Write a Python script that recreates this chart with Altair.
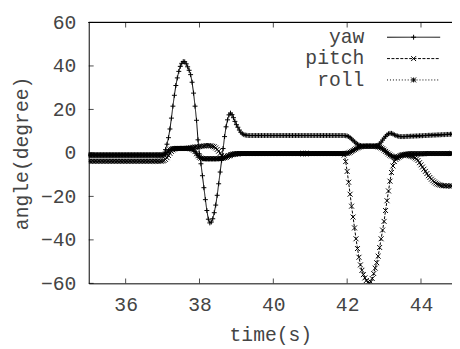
import altair as alt
import pandas as pd

series_names = ["yaw", "pitch", "roll"]
t_start = 35.0
t_step = 0.04

yaw = [
    -1.0, -1.0, -1.0, -1.0, -1.0, -1.0, -1.0, -1.0, -1.0, -1.0, -1.0, -1.0, -1.0, -1.0, -1.0, -1.0, -1.0, -1.0, -1.0, -1.0, -1.0, -1.0, -1.0, -1.0, -1.0,
    -1.0, -1.0, -1.0, -1.0, -1.0, -1.0, -1.0, -1.0, -1.0, -1.0, -1.0, -1.0, -1.0, -1.0, -1.0, -1.0, -1.0, -1.0, -1.0, -1.0, -1.0, -1.0, -1.0, -1.0, -1.0,
    -1.0, -0.5, 1.5, 4.0, 7.0, 11.0, 16.0, 21.5, 26.5, 31.0, 34.5, 37.5, 39.8, 41.2, 42.0, 41.9, 41.0, 39.6, 38.0, 36.0, 32.5, 27.5, 21.5, 15.0, 6.0,
    -0.5, -5.0, -10.5, -16.0, -21.5, -26.5, -30.5, -32.2, -31.8, -30.3, -27.5, -24.0, -19.5, -14.2, -8.8, -3.4, 2.0, 7.5, 12.0, 15.2, 17.5, 18.3, 17.6, 16.2, 14.5,
    13.0, 11.8, 10.5, 9.5, 8.8, 8.4, 8.2, 8.1, 8.0, 8.0, 8.0, 8.0, 8.0, 8.0, 8.0, 8.0, 8.0, 8.0, 8.0, 8.0, 8.0, 8.0, 8.0, 8.0, 8.0,
    8.0, 8.0, 8.0, 8.0, 8.0, 8.0, 8.0, 8.0, 8.0, 8.0, 8.0, 8.0, 8.0, 8.0, 8.0, 8.0, 8.0, 8.0, 8.0, 8.0, 8.0, 8.0, 8.0, 8.0, 8.0,
    8.0, 8.0, 8.0, 8.0, 8.0, 8.0, 8.0, 8.0, 8.0, 8.0, 8.0, 8.0, 8.0, 8.0, 8.0, 8.0, 8.0, 8.0, 8.0, 8.0, 8.0, 8.0, 8.0, 8.0, 7.9,
    7.8, 7.5, 7.0, 6.4, 5.8, 5.1, 4.5, 4.0, 3.6, 3.4, 3.2, 3.1, 3.1, 3.1, 3.1, 3.1, 3.1, 3.1, 3.2, 3.3, 3.4, 3.6, 4.2, 5.0, 5.9,
    6.8, 7.6, 8.3, 8.8, 9.0, 9.0, 8.7, 8.3, 8.0, 7.8, 7.6, 7.5, 7.5, 7.5, 7.5, 7.6, 7.6, 7.6, 7.7, 7.7, 7.7, 7.8, 7.8, 7.8, 7.9,
    7.9, 7.9, 8.0, 8.0, 8.0, 8.1, 8.1, 8.1, 8.2, 8.2, 8.2, 8.3, 8.3, 8.3, 8.4, 8.4, 8.4, 8.5, 8.5, 8.5, 8.6, 8.6,
]

pitch = [
    -3.8, -3.8, -3.8, -3.8, -3.8, -3.8, -3.8, -3.8, -3.8, -3.8, -3.8, -3.8, -3.8, -3.8, -3.8, -3.8, -3.8, -3.8, -3.8, -3.8, -3.8, -3.8, -3.8, -3.8, -3.8,
    -3.8, -3.8, -3.8, -3.8, -3.8, -3.8, -3.8, -3.8, -3.8, -3.8, -3.8, -3.8, -3.8, -3.8, -3.8, -3.8, -3.8, -3.8, -3.8, -3.8, -3.8, -3.8, -3.8, -3.8, -3.8,
    -3.7, -3.5, -3.0, -2.2, -1.2, -0.2, 0.7, 1.4, 1.8, 2.0, 2.1, 2.1, 2.1, 2.1, 2.1, 2.1, 2.1, 2.2, 2.3, 2.4, 2.5, 2.6, 2.7, 2.8, 2.8,
    2.9, 3.0, 3.1, 3.2, 3.3, 3.4, 3.4, 3.3, 3.2, 3.0, 2.8, 2.3, 1.6, 0.8, -0.2, -1.2, -1.9, -2.0, -1.9, -1.6, -1.3, -1.0, -0.8, -0.6, -0.5,
    -0.4, -0.4, -0.3, -0.3, -0.3, -0.3, -0.3, -0.3, -0.3, -0.3, -0.3, -0.3, -0.3, -0.3, -0.3, -0.3, -0.3, -0.3, -0.3, -0.3, -0.3, -0.3, -0.3, -0.3, -0.3,
    -0.3, -0.3, -0.3, -0.3, -0.3, -0.3, -0.3, -0.3, -0.3, -0.3, -0.3, -0.3, -0.3, -0.3, -0.3, -0.3, -0.3, -0.3, -0.3, -0.3, -0.3, -0.3, -0.3, -0.3, -0.3,
    -0.3, -0.3, -0.3, -0.3, -0.3, -0.3, -0.3, -0.3, -0.3, -0.3, -0.3, -0.3, -0.3, -0.3, -0.3, -0.3, -0.3, -0.3, -0.3, -0.3, -0.3, -0.3, -0.3, -1.0, -4.0,
    -8.5, -13.5, -19.0, -24.5, -29.5, -34.5, -39.5, -44.0, -48.0, -51.5, -54.0, -56.0, -57.5, -58.7, -59.5, -59.8, -59.3, -57.8, -55.5, -53.0, -50.5, -47.5, -43.5, -39.5, -35.5,
    -31.5, -26.5, -22.0, -17.5, -13.0, -9.0, -6.0, -4.0, -3.0, -2.4, -1.8, -1.3, -1.0, -0.9, -0.9, -1.0, -1.1, -1.3, -1.5, -1.7, -1.9, -2.3, -2.8, -3.5, -4.5,
    -5.5, -6.5, -7.5, -8.5, -9.5, -10.5, -11.3, -12.1, -12.8, -13.4, -13.9, -14.3, -14.6, -14.8, -15.0, -15.1, -15.1, -15.2, -15.2, -15.2, -15.2, -15.2,
]

roll = [
    -1.0, -1.0, -1.0, -1.0, -1.0, -1.0, -1.0, -1.0, -1.0, -1.0, -1.0, -1.0, -1.0, -1.0, -1.0, -1.0, -1.0, -1.0, -1.0, -1.0, -1.0, -1.0, -1.0, -1.0, -1.0,
    -1.0, -1.0, -1.0, -1.0, -1.0, -1.0, -1.0, -1.0, -1.0, -1.0, -1.0, -1.0, -1.0, -1.0, -1.0, -1.0, -1.0, -1.0, -1.0, -1.0, -1.0, -1.0, -1.0, -1.0, -1.0,
    -1.0, -0.9, -0.5, 0.2, 0.9, 1.4, 1.7, 1.9, 2.0, 2.0, 2.0, 2.0, 2.0, 2.0, 2.0, 2.0, 2.0, 2.0, 2.0, 1.9, 1.7, 1.3, 0.6, -0.4, -1.3,
    -2.0, -2.4, -2.6, -2.7, -2.7, -2.7, -2.7, -2.7, -2.7, -2.7, -2.7, -2.7, -2.7, -2.7, -2.6, -2.5, -2.4, -2.2, -1.9, -1.6, -1.3, -1.0, -0.8, -0.6, -0.5,
    -0.4, -0.4, -0.3, -0.3, -0.3, -0.3, -0.3, -0.3, -0.3, -0.3, -0.3, -0.3, -0.3, -0.3, -0.3, -0.3, -0.3, -0.3, -0.3, -0.3, -0.3, -0.3, -0.3, -0.3, -0.3,
    -0.3, -0.3, -0.3, -0.3, -0.3, -0.3, -0.3, -0.3, -0.3, -0.3, -0.3, -0.3, -0.3, -0.3, -0.3, -0.3, -0.3, -0.3, -0.3, -0.3, -0.3, -0.3, -0.3, -0.3, -0.3,
    -0.3, -0.3, -0.3, -0.3, -0.3, -0.3, -0.3, -0.3, -0.3, -0.3, -0.3, -0.3, -0.3, -0.3, -0.3, -0.3, -0.3, -0.3, -0.3, -0.3, -0.3, -0.3, -0.3, -0.3, -0.2,
    -0.2, 0.0, 0.3, 0.7, 1.1, 1.5, 1.9, 2.3, 2.6, 2.8, 3.0, 3.1, 3.1, 3.1, 3.1, 3.1, 3.1, 3.1, 3.1, 3.0, 2.9, 2.8, 2.6, 2.3, 1.9,
    1.3, 0.7, 0.1, -0.5, -1.0, -1.4, -1.7, -2.0, -2.1, -2.0, -1.8, -1.5, -1.2, -0.9, -0.7, -0.6, -0.5, -0.4, -0.4, -0.4, -0.4, -0.4, -0.4, -0.4, -0.4,
    -0.4, -0.4, -0.4, -0.3, -0.3, -0.3, -0.3, -0.3, -0.3, -0.3, -0.3, -0.3, -0.3, -0.3, -0.3, -0.3, -0.3, -0.3, -0.3, -0.3, -0.3, -0.3,
]

x_ticks = [36, 38, 40, 42, 44]
y_ticks = [-60, -40, -20, 0, 20, 40, 60]
x_domain = [35.0, 44.84]
y_domain = [-60, 60]
x_title = "time(s)"
y_title = "angle(degree)"

# ---- build long table ----
times = [round(t_start + t_step * i, 2) for i in range(len(yaw))]
rows = []
for name, vals in zip(series_names, [yaw, pitch, roll]):
    for t, v in zip(times, vals):
        rows.append({"t": t, "v": v, "series": name})
df = pd.DataFrame(rows)

W, H = 369, 265
FONT = "Liberation Mono"
FS = 20
TXT = "#444444"
dash_range = [[1, 0], [3, 1.5], [1, 2]]
shape_range = [
    "M-1,0L1,0M0,-1L0,1",
    "M-1,-1L1,1M1,-1L-1,1",
    "M-1,0L1,0M0,-1L0,1M-1,-1L1,1M1,-1L-1,1",
]
MS = 25

xs = alt.Scale(domain=x_domain, nice=False, zero=False)
ys = alt.Scale(domain=y_domain, nice=False, zero=False)

x_axis = alt.Axis(
    title=x_title, values=x_ticks, ticks=False, tickSize=0, grid=False,
    domainColor="black", domainWidth=1, labelFont=FONT, labelFontSize=FS,
    labelColor=TXT, labelPadding=12, labelFlush=False, labelOverlap=False,
    titleFont=FONT, titleFontSize=FS, titleFontWeight="normal", titleColor=TXT,
    titleX=W / 2, titleY=58, titleBaseline="alphabetic", titleAlign="center",
)
y_axis = alt.Axis(
    title=y_title, values=y_ticks, ticks=False, tickSize=0, grid=False,
    domainColor="black", domainWidth=1, labelFont=FONT, labelFontSize=FS,
    labelColor=TXT, labelPadding=13, labelFlush=False, labelOverlap=False,
    titleFont=FONT, titleFontSize=FS, titleFontWeight="normal", titleColor=TXT,
    titleX=-68, titleY=H / 2, titleAngle=270, titleBaseline="middle", titleAlign="center",
)


def X(field):
    return alt.X(field, scale=xs, axis=x_axis, title=x_title)


def Y(field):
    return alt.Y(field, scale=ys, axis=y_axis, title=y_title)


base = alt.Chart(df)
lines = base.mark_line(color="black", strokeWidth=1, clip=True).encode(
    x=X("t:Q"),
    y=Y("v:Q"),
    strokeDash=alt.StrokeDash("series:N", scale=alt.Scale(domain=series_names, range=dash_range), legend=None),
    detail="series:N",
    order="t:Q",
)
points = base.mark_point(color="black", filled=False, strokeWidth=1, size=MS, opacity=1, clip=True).encode(
    x=X("t:Q"),
    y=Y("v:Q"),
    shape=alt.Shape("series:N", scale=alt.Scale(domain=series_names, range=shape_range), legend=None),
)

xt_df = pd.DataFrame({"t": x_ticks})
yt_df = pd.DataFrame({"v": y_ticks})
bottom_ticks = alt.Chart(xt_df).mark_tick(color="black", thickness=1, size=5, orient="vertical").encode(
    x=X("t:Q"), y=alt.value(H - 2.5))
top_ticks = alt.Chart(xt_df).mark_tick(color="black", thickness=1, size=5, orient="vertical").encode(
    x=X("t:Q"), y=alt.value(2.5))
left_ticks = alt.Chart(yt_df).mark_tick(color="black", thickness=1, size=5, orient="horizontal").encode(
    y=Y("v:Q"), x=alt.value(2.5))
top_border = alt.Chart(xt_df).mark_rule(color="black", strokeWidth=1).encode(
    x=alt.value(0), x2=alt.value(W), y=alt.value(0))

# ---- legend (text right-aligned, line sample with marker) ----
leg_layers = []
leg_df = pd.DataFrame({"series": series_names})
for i, name in enumerate(series_names):
    yy = 15 + 21.7 * i
    one = leg_df[leg_df["series"] == name]
    leg_layers.append(alt.Chart(one).mark_text(
        align="right", baseline="middle", font=FONT, fontSize=FS, color=TXT
    ).encode(x=alt.value(280), y=alt.value(yy), text="series:N"))
    leg_layers.append(alt.Chart(one).mark_rule(
        color="black", strokeWidth=1, strokeDash=dash_range[i]
    ).encode(x=alt.value(303), x2=alt.value(357), y=alt.value(yy)))
    leg_layers.append(alt.Chart(one).mark_point(
        color="black", filled=False, strokeWidth=1, size=MS, opacity=1, shape=shape_range[i]
    ).encode(x=alt.value(330), y=alt.value(yy)))

chart = alt.layer(
    lines, points, bottom_ticks, top_ticks, left_ticks, top_border, *leg_layers
).properties(
    width=W, height=H,
    padding={"left": 82, "top": 12, "right": 0, "bottom": 64},
    autosize=alt.AutoSizeParams(type="none"),
).configure_view(stroke=None)

chart.save("out.html", embed_options={"renderer": "svg", "actions": False})
